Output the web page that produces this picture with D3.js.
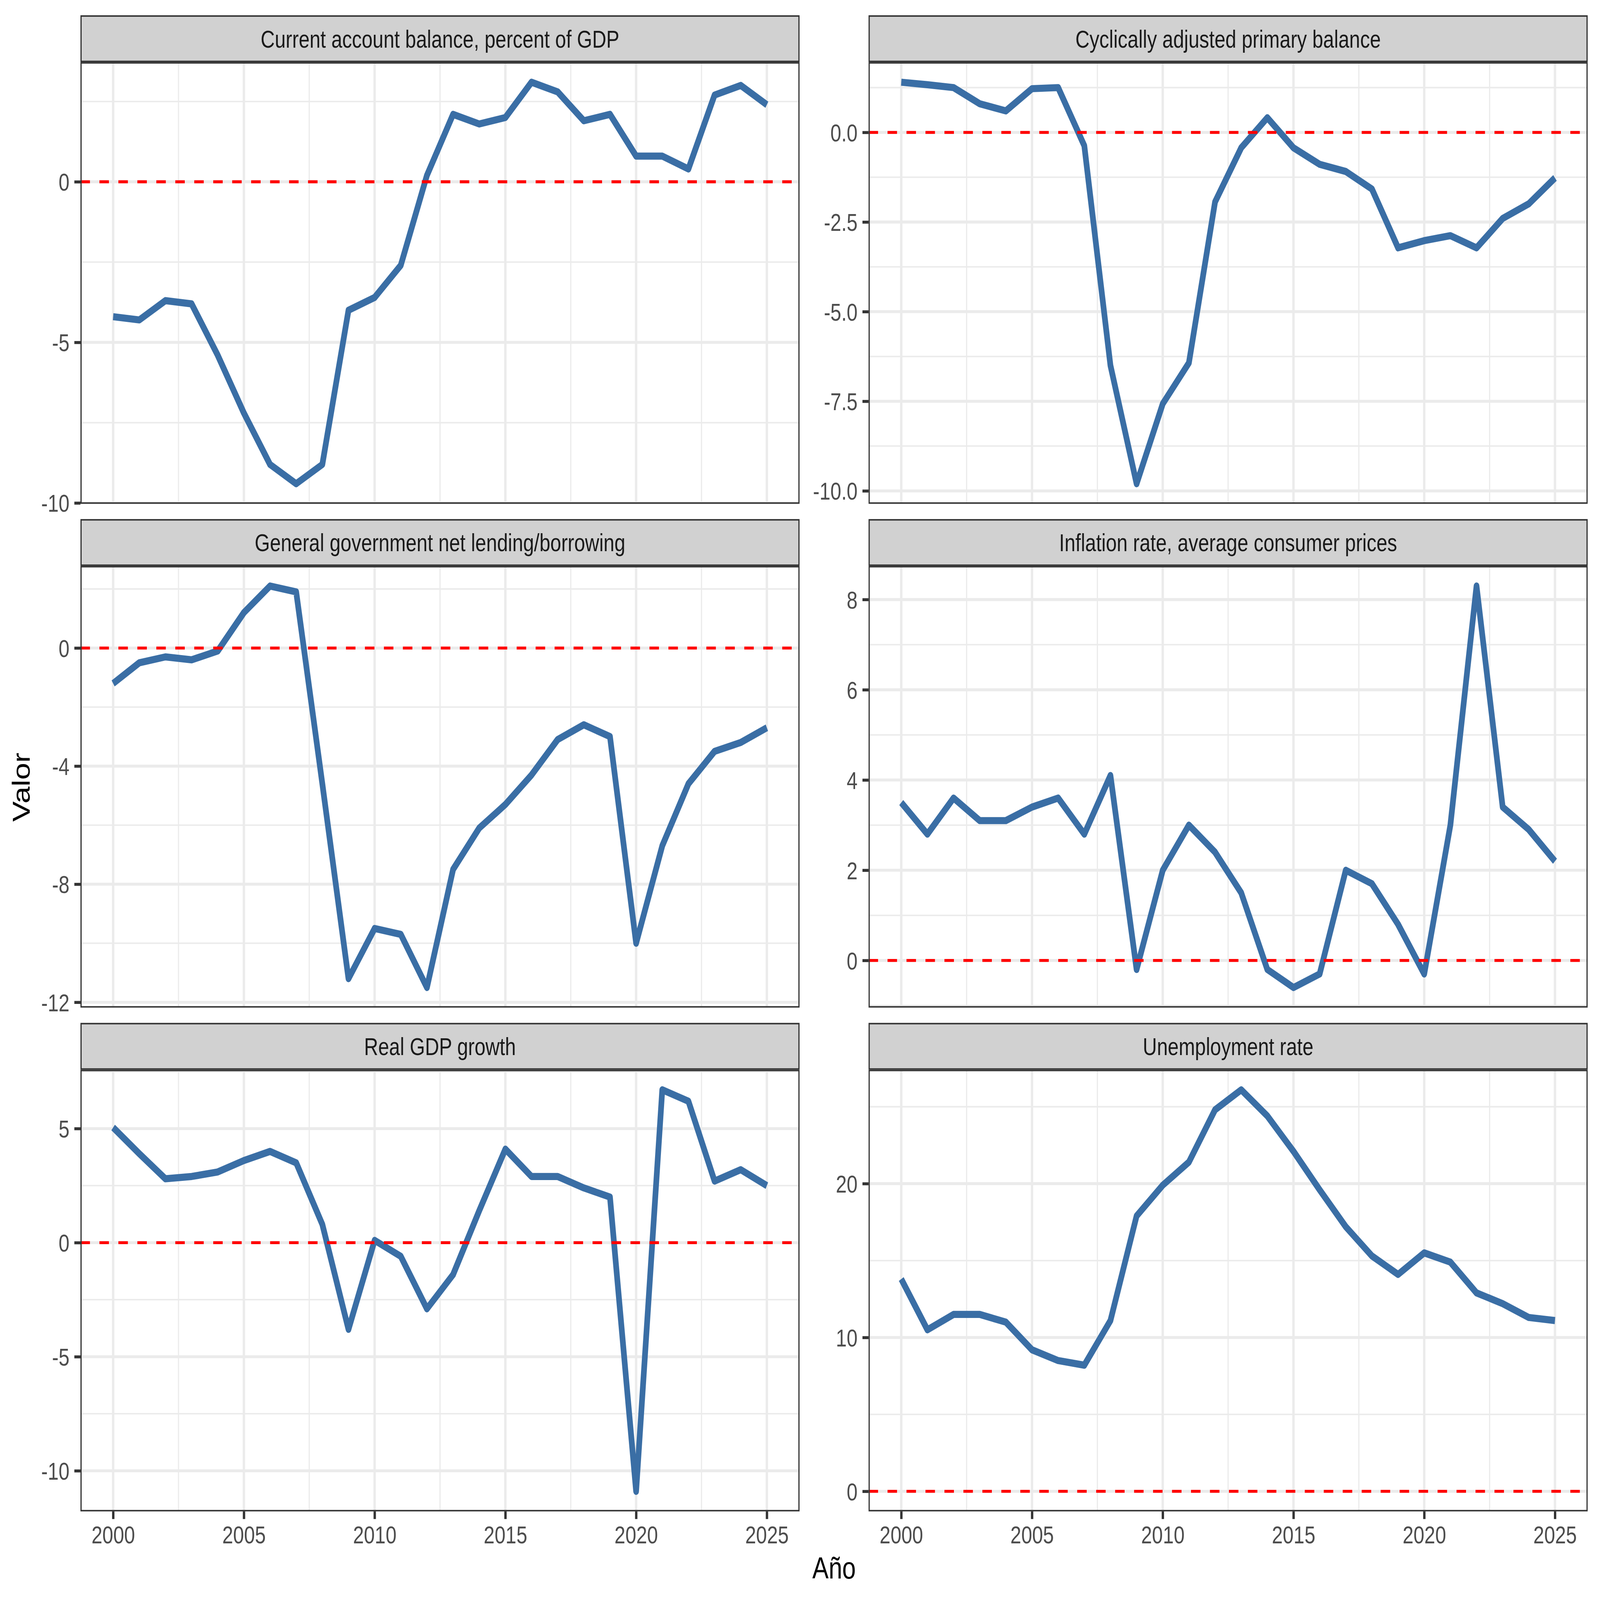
<!DOCTYPE html>
<html><head><meta charset="utf-8">
<script src="https://cdn.jsdelivr.net/npm/d3@7"></script>
<style>
html,body{margin:0;padding:0;width:100%;height:100%;overflow:hidden;background:#fff}
svg{display:block;width:100vw;height:100vh}
</style>
</head><body>
<svg id="c" viewBox="0 0 7000 5600" preserveAspectRatio="none"></svg>
<script>
const years = [2000,2001,2002,2003,2004,2005,2006,2007,2008,2009,2010,2011,2012,2013,2014,2015,2016,2017,2018,2019,2020,2021,2022,2023,2024,2025];
const panelTitles = [
  "Current account balance, percent of GDP",
  "Cyclically adjusted primary balance",
  "General government net lending/borrowing",
  "Inflation rate, average consumer prices",
  "Real GDP growth",
  "Unemployment rate"
];
const currentAccount = [-4.2,-4.3,-3.7,-3.8,-5.4,-7.2,-8.8,-9.4,-8.8,-4.0,-3.6,-2.6,0.2,2.1,1.8,2.0,3.1,2.8,1.9,2.1,0.8,0.8,0.4,2.7,3.0,2.4];
const cyclicallyAdjusted = [1.4,1.33,1.25,0.8,0.6,1.22,1.25,-0.37,-6.5,-9.8,-7.57,-6.43,-1.94,-0.43,0.41,-0.43,-0.89,-1.09,-1.58,-3.22,-3.02,-2.88,-3.22,-2.4,-1.99,-1.27];
const govNetLending = [-1.2,-0.5,-0.3,-0.4,-0.1,1.2,2.1,1.9,-4.6,-11.2,-9.5,-9.7,-11.5,-7.5,-6.1,-5.3,-4.3,-3.1,-2.6,-3.0,-10.0,-6.7,-4.6,-3.5,-3.2,-2.7];
const inflation = [3.5,2.8,3.6,3.1,3.1,3.4,3.6,2.8,4.1,-0.2,2.0,3.0,2.4,1.5,-0.2,-0.6,-0.3,2.0,1.7,0.8,-0.3,3.0,8.3,3.4,2.9,2.2];
const realGDP = [5.05,3.9,2.8,2.9,3.1,3.6,4.0,3.5,0.8,-3.8,0.1,-0.6,-2.9,-1.4,1.4,4.1,2.9,2.9,2.4,2.0,-10.9,6.7,6.2,2.7,3.2,2.5];
const unemployment = [13.8,10.5,11.5,11.5,11.0,9.2,8.5,8.2,11.1,17.9,19.9,21.4,24.8,26.1,24.4,22.1,19.6,17.2,15.3,14.1,15.5,14.9,12.9,12.2,11.3,11.1];
const yTickValues = [[-10,-5,0],[-10,-7.5,-5,-2.5,0],[-12,-8,-4,0],[0,2,4,6,8],[-10,-5,0,5],[0,10,20]];
const yTickLabels = [["-10","-5","0"],["-10.0","-7.5","-5.0","-2.5","0.0"],["-12","-8","-4","0"],["0","2","4","6","8"],["-10","-5","0","5"],["0","10","20"]];
const xTickValues = [2000,2005,2010,2015,2020,2025];
const xTickLabels = ["2000","2005","2010","2015","2020","2025"];
const refLine = 0;

const seriesList = [currentAccount, cyclicallyAdjusted, govNetLending, inflation, realGDP, unemployment];

// layout (700 dpi, ggplot theme_bw)
const PT = 700/72;
const colLeft = [352, 3800], colW = 3146;
const rowStart = 53.5, stripH = 164, panelH = 1545.8, rowGap = 53.5;
const lw = 0.5*2.845*700/96; // 0.5mm line
const fontFam = "'Liberation Sans', Arial, Helvetica, sans-serif";
const tickFS = 8.8*PT, titleFS = 11*PT;
const tickLen = 2.75*PT, tickPad = 2.2*PT;

const svg = d3.select("#c");
svg.append("rect").attr("width",7000).attr("height",5600).attr("fill","#fff");

function expandDomain(vals){
  const e = d3.extent(vals.concat([refLine]));
  const s = e[1]-e[0];
  return [e[0]-0.05*s, e[1]+0.05*s];
}
function minorBreaks(majors, dom){
  const step = majors[1]-majors[0];
  const b = majors.slice();
  if (dom[0] < b[0]) b.unshift(b[0]-step);
  if (dom[1] > b[b.length-1]) b.push(b[b.length-1]+step);
  const out = [];
  for (let i=0;i<b.length-1;i++){ const m=(b[i]+b[i+1])/2; if(m>=dom[0]&&m<=dom[1]) out.push(m); }
  return out;
}

const xDomain = (()=>{const e=d3.extent(years);const s=e[1]-e[0];return [e[0]-0.05*s,e[1]+0.05*s];})();
const x = d3.scaleLinear().domain(xDomain).range([0,colW]);
const xMinor = minorBreaks(xTickValues, xDomain);

seriesList.forEach((vals, i) => {
  const col = i%2, row = Math.floor(i/2);
  const left = colLeft[col];
  const stripTop = rowStart + row*(stripH+panelH+rowGap);
  const top = stripTop + stripH;
  const yDom = expandDomain(vals);
  const y = d3.scaleLinear().domain(yDom).range([panelH,0]);
  const yMinor = minorBreaks(yTickValues[i], yDom);

  const g = svg.append("g").attr("transform",`translate(${left},${top})`);
  const clipId = "clip"+i;
  g.append("clipPath").attr("id",clipId).append("rect").attr("width",colW).attr("height",panelH);
  const inner = g.append("g").attr("clip-path",`url(#${clipId})`);
  inner.append("rect").attr("width",colW).attr("height",panelH).attr("fill","#fff");

  inner.selectAll(".ymin").data(yMinor).enter().append("line")
    .attr("x1",0).attr("x2",colW).attr("y1",d=>y(d)).attr("y2",d=>y(d))
    .attr("stroke","#EBEBEB").attr("stroke-width",lw/2);
  inner.selectAll(".xmin").data(xMinor).enter().append("line")
    .attr("y1",0).attr("y2",panelH).attr("x1",d=>x(d)).attr("x2",d=>x(d))
    .attr("stroke","#EBEBEB").attr("stroke-width",lw/2);
  inner.selectAll(".ymaj").data(yTickValues[i]).enter().append("line")
    .attr("x1",0).attr("x2",colW).attr("y1",d=>y(d)).attr("y2",d=>y(d))
    .attr("stroke","#EBEBEB").attr("stroke-width",lw);
  inner.selectAll(".xmaj").data(xTickValues).enter().append("line")
    .attr("y1",0).attr("y2",panelH).attr("x1",d=>x(d)).attr("x2",d=>x(d))
    .attr("stroke","#EBEBEB").attr("stroke-width",lw);

  const line = d3.line().x((d,j)=>x(years[j])).y(d=>y(d));
  inner.append("path").datum(vals).attr("d",line)
    .attr("fill","none").attr("stroke","#3A6EA5").attr("stroke-width",1.2*2.845*700/96)
    .attr("stroke-linejoin","round").attr("stroke-linecap","butt");

  inner.append("line").attr("x1",0).attr("x2",colW).attr("y1",y(refLine)).attr("y2",y(refLine))
    .attr("stroke","#FF0000").attr("stroke-width",lw)
    .attr("stroke-dasharray",`${4*lw} ${4*lw}`);

  g.append("rect").attr("x",lw/4).attr("y",lw/4).attr("width",colW-lw/2).attr("height",panelH-lw/2)
    .attr("fill","none").attr("stroke","#333333").attr("stroke-width",lw/2);

  const sg = svg.append("g").attr("transform",`translate(${left},${stripTop})`);
  sg.append("rect").attr("width",colW).attr("height",stripH).attr("fill","#D1D1D1");
  sg.append("rect").attr("x",lw/4).attr("y",lw/4).attr("width",colW-lw/2).attr("height",stripH-lw/2)
    .attr("fill","none").attr("stroke","#333333").attr("stroke-width",lw/2);
  sg.append("text").attr("x",colW/2).attr("y",stripH/2+0.358*tickFS)
    .attr("text-anchor","middle").attr("font-family",fontFam).attr("font-size",tickFS)
    .attr("fill","#1A1A1A").text(panelTitles[i]);

  const yAxis = d3.axisLeft(y).tickValues(yTickValues[i])
    .tickFormat((d,k)=>yTickLabels[i][k]).tickSize(tickLen).tickPadding(tickPad);
  const ya = g.append("g").call(yAxis);
  ya.select(".domain").remove();
  ya.selectAll(".tick line").attr("stroke","#333333").attr("stroke-width",lw);
  ya.selectAll(".tick text").attr("font-family",fontFam).attr("font-size",tickFS)
    .attr("fill","#4D4D4D").attr("dy","0.358em");

  if (row === 2){
    const xAxis = d3.axisBottom(x).tickValues(xTickValues)
      .tickFormat((d,k)=>xTickLabels[k]).tickSize(tickLen).tickPadding(tickPad);
    const xa = g.append("g").attr("transform",`translate(0,${panelH})`).call(xAxis);
    xa.select(".domain").remove();
    xa.selectAll(".tick line").attr("stroke","#333333").attr("stroke-width",lw);
    xa.selectAll(".tick text").attr("font-family",fontFam).attr("font-size",tickFS)
      .attr("fill","#4D4D4D").attr("dy",null).attr("y",tickLen+tickPad+0.74*tickFS);
  }
});

svg.append("text").attr("x",3649).attr("y",5525).attr("text-anchor","middle")
  .attr("font-family",fontFam).attr("font-size",titleFS).attr("fill","#000").text("Año");
svg.append("text").attr("transform","translate(130,2755) rotate(-90)").attr("text-anchor","middle")
  .attr("font-family",fontFam).attr("font-size",titleFS).attr("fill","#000").text("Valor");
</script>
</body></html>
